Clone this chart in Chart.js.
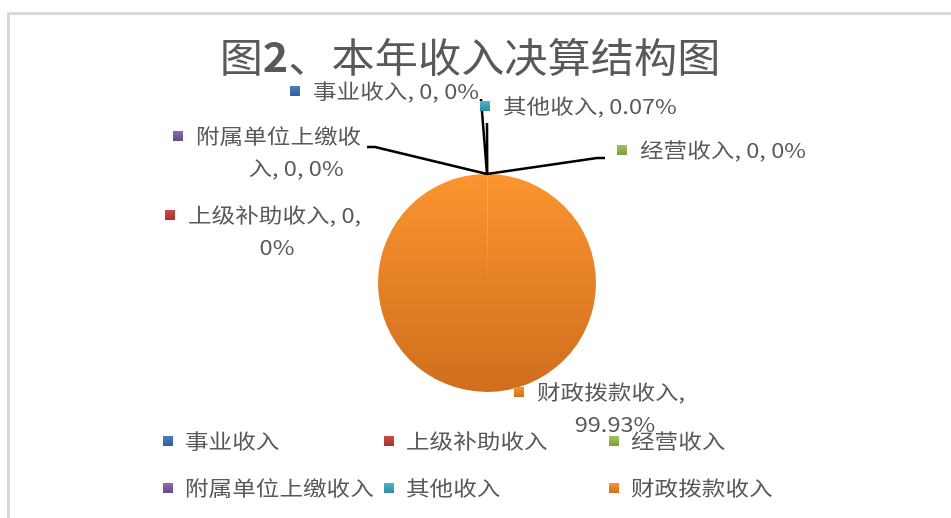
<!DOCTYPE html>
<html>
<head>
<meta charset="utf-8">
<script src="https://cdn.jsdelivr.net/npm/chart.js@4/dist/chart.umd.min.js"></script>
<style>
  html, body { margin: 0; padding: 0; background: #fff; }
  #wrap { position: relative; width: 951px; height: 518px; }
</style>
</head>
<body>
<div id="wrap"><canvas id="pie" width="951" height="518"></canvas></div>
<script>
// data
const categories = ['事业收入', '上级补助收入', '经营收入', '附属单位上缴收入', '其他收入', '财政拨款收入'];
const percents = [0, 0, 0, 0, 0.07, 99.93];
const labelLines = [
  ['事业收入, 0, 0%'],
  ['上级补助收入, 0,', '0%'],
  ['经营收入, 0, 0%'],
  ['附属单位上缴收', '入, 0, 0%'],
  ['其他收入, 0.07%'],
  ['财政拨款收入,', '99.93%']
];
const chartTitle = ['图', '2', '、本年收入决算结构图'];

// colours (top / bottom of gradient)
const colorsTop = ['#4a7fc1', '#cf4a47', '#a2c45c', '#8a6bb0', '#4cb6d0', '#fa952f'];
const colorsBot = ['#2f5f98', '#a33331', '#7d9c3f', '#64498a', '#2f8aa3', '#d06e1d'];

// where the data labels sit
const labelPos = [
  { mx: 295, y: 91, line: [[481, 99]] },
  { mx: 170, y: 215, x2: 277 },
  { mx: 622, y: 150, line: [[597, 158], [605, 158]] },
  { mx: 178, y: 136, x2: 296, line: [[375, 147], [367, 147]] },
  { mx: 485, y: 106, line: [[487, 123]] },
  { mx: 519, y: 392, x2: 615 }
];
const legendCols = [168, 389, 614];
const legendRows = [441, 488];

const FONT = '"Noto Sans CJK SC", "Noto Sans", sans-serif';
const TXT = '#595959';
const SX = 1.18;

function grad(ctx, x, y0, y1, i) {
  const g = ctx.createLinearGradient(0, y0, 0, y1);
  g.addColorStop(0, colorsTop[i]);
  g.addColorStop(1, colorsBot[i]);
  return g;
}

function text(ctx, s, x, y, align, size, sx, weight) {
  ctx.save();
  ctx.font = (weight || 'normal') + ' ' + size + 'px ' + FONT;
  ctx.translate(x, y);
  ctx.scale(sx, 1);
  ctx.textAlign = align;
  ctx.textBaseline = 'middle';
  ctx.fillText(s, 0, 0);
  ctx.restore();
}

function marker(ctx, cx, cy, i) {
  ctx.fillStyle = grad(ctx, cx, cy - 5, cy + 5, i);
  ctx.fillRect(cx - 5, cy - 5, 10, 10);
}

const decor = {
  id: 'decor',
  beforeDraw(chart) {
    const ctx = chart.ctx;
    ctx.save();
    ctx.fillStyle = '#fff';
    ctx.fillRect(0, 0, chart.width, chart.height);
    ctx.fillStyle = '#d9d9d9';
    ctx.fillRect(7, 12, chart.width, 3);
    ctx.fillRect(7, 12, 3, chart.height);
    ctx.restore();
  },
  afterDraw(chart) {
    const ctx = chart.ctx;
    const meta = chart.getDatasetMeta(0);
    ctx.save();

    // title
    ctx.fillStyle = TXT;
    const tSize = 40, tsx = 1.08;
    const widths = chartTitle.map((s, k) => {
      ctx.font = (k === 1 ? 'bold ' : 'normal ') + tSize + 'px ' + FONT;
      return ctx.measureText(s).width * tsx;
    });
    let tx = 470 - widths.reduce((a, b) => a + b, 0) / 2;
    chartTitle.forEach((s, k) => {
      text(ctx, s, tx, 57, 'left', tSize, tsx, k === 1 ? 'bold' : 'normal');
      tx += widths[k];
    });

    // leader lines
    ctx.strokeStyle = '#000';
    ctx.lineWidth = 2.5;
    ctx.lineJoin = 'round';
    meta.data.forEach((arc, i) => {
      const p = labelPos[i];
      if (!p.line) return;
      const mid = (arc.startAngle + arc.endAngle) / 2;
      ctx.beginPath();
      ctx.moveTo(arc.x + Math.cos(mid) * arc.outerRadius, arc.y + Math.sin(mid) * arc.outerRadius);
      p.line.forEach(pt => ctx.lineTo(pt[0], pt[1]));
      ctx.stroke();
    });

    // data labels
    labelLines.forEach((lines, i) => {
      const p = labelPos[i];
      marker(ctx, p.mx, p.y, i);
      ctx.fillStyle = TXT;
      text(ctx, lines[0], p.mx + 18, p.y, 'left', 20, SX);
      if (lines[1]) text(ctx, lines[1], p.x2, p.y + 32, 'center', 20, SX);
    });

    // legend
    categories.forEach((c, i) => {
      const x = legendCols[i % 3], y = legendRows[Math.floor(i / 3)];
      marker(ctx, x, y, i);
      ctx.fillStyle = TXT;
      text(ctx, c, x + 17, y, 'left', 20, SX);
    });
    ctx.restore();
  }
};

new Chart(document.getElementById('pie'), {
  type: 'pie',
  data: {
    labels: categories,
    datasets: [{
      data: percents,
      borderWidth: 0,
      backgroundColor: (c) => {
        const a = c.chart.chartArea;
        if (!a) return colorsTop[c.dataIndex];
        return grad(c.chart.ctx, 0, a.top, a.bottom, c.dataIndex);
      }
    }]
  },
  options: {
    responsive: false,
    devicePixelRatio: 1,
    animation: false,
    layout: { padding: { top: 174, bottom: 126, left: 300, right: 277 } },
    plugins: { legend: { display: false }, tooltip: { enabled: false }, title: { display: false } }
  },
  plugins: [decor]
});
</script>
</body>
</html>
